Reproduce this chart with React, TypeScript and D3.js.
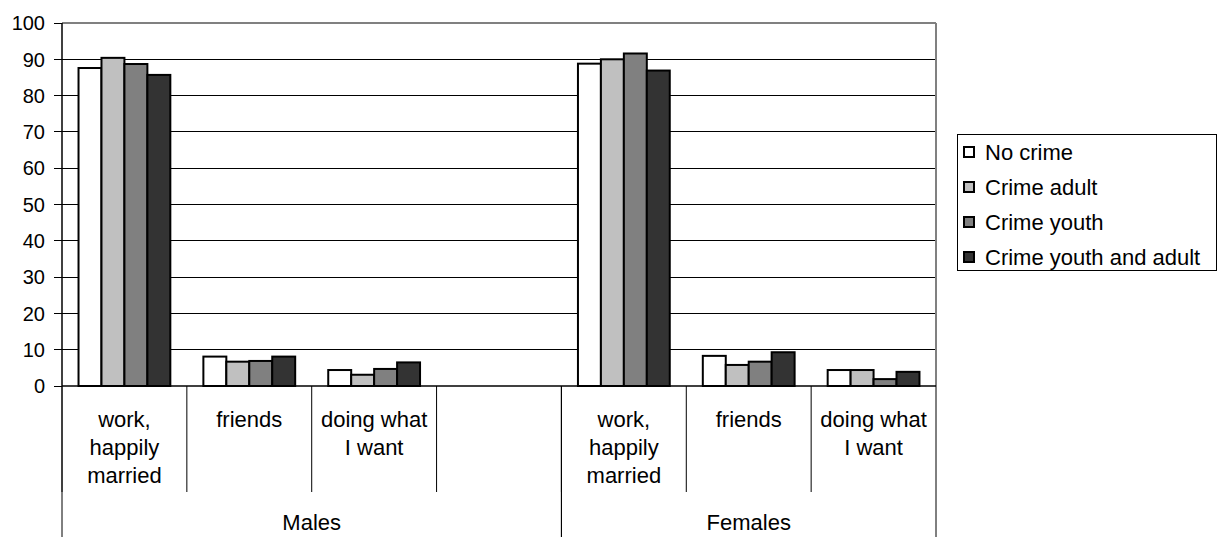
import React from "react";
import * as d3 from "d3";

const series = ["No crime", "Crime adult", "Crime youth", "Crime youth and adult"];
const groups = ["Males", "Females"];
const slots = ["M-work", "M-friends", "M-doing", "M-blank", "F-work", "F-friends", "F-doing"];
const slotLabels = [["work,", "happily", "married"], ["friends"], ["doing what", "I want"], [], ["work,", "happily", "married"], ["friends"], ["doing what", "I want"]];
const groupSlots = [["M-work", "M-blank"], ["F-work", "F-doing"]];
const dataSlots = ["M-work", "M-friends", "M-doing", "F-work", "F-friends", "F-doing"];
const noCrime = [87.6, 8.1, 4.4, 88.8, 8.3, 4.4];
const crimeAdult = [90.4, 6.7, 3.1, 90.0, 5.8, 4.4];
const crimeYouth = [88.7, 6.9, 4.7, 91.6, 6.7, 1.9];
const crimeYouthAdult = [85.7, 8.1, 6.5, 86.9, 9.3, 3.9];
const yTicks = [0, 10, 20, 30, 40, 50, 60, 70, 80, 90, 100];
const colors = ["#ffffff", "#c0c0c0", "#808080", "#333333"];

const W = 1221, H = 537;
const L = 62, R = 936, T = 23, B = 386;
const FONT = "Arial, 'Liberation Sans', sans-serif";

export default function App() {
  const x = d3.scaleBand<string>().domain(slots).range([L, R]).padding(0);
  const xs = d3.scaleBand<string>().domain(series).range([0, x.bandwidth()]).paddingInner(0).paddingOuter(0.72);
  const y = d3.scaleLinear().domain([0, 100]).range([B, T]);
  const allSeries = [noCrime, crimeAdult, crimeYouth, crimeYouthAdult];

  return (
    <svg width={W} height={H} style={{ position: "absolute", left: 0, top: 0, background: "#fff" }} fontFamily={FONT}>
      {yTicks.filter(t => t > 0 && t < 100).map(t => (
        <line key={"g" + t} x1={L} x2={R} y1={y(t)} y2={y(t)} stroke="#000" strokeWidth={1} shapeRendering="crispEdges" />
      ))}
      <line x1={L} x2={R} y1={y(100)} y2={y(100)} stroke="#808080" strokeWidth={2} />
      <line x1={R} x2={R} y1={y(100)} y2={B} stroke="#808080" strokeWidth={2} />
      {allSeries.map((vals, si) =>
        vals.map((v, i) => {
          const slot = dataSlots[i];
          const bx = (x(slot) as number) + (xs(series[si]) as number);
          return (
            <rect key={si + "-" + i} x={bx} y={y(v)} width={xs.bandwidth()} height={B - y(v)}
              fill={colors[si]} stroke="#000" strokeWidth={2} />
          );
        })
      )}
      <line x1={L} x2={L} y1={y(100)} y2={B} stroke="#000" strokeWidth={1.5} />
      {yTicks.map(t => (
        <g key={"t" + t}>
          <line x1={L - 8} x2={L} y1={y(t)} y2={y(t)} stroke="#000" strokeWidth={1} shapeRendering="crispEdges" />
          <text x={45} y={y(t)} dy="0.36em" textAnchor="end" fontSize={20} fill="#000">{t}</text>
        </g>
      ))}
      <line x1={L} x2={R} y1={B} y2={B} stroke="#000" strokeWidth={1.5} />
      {slots.map((s, i) => {
        const sx = x(s) as number;
        return (
          <g key={"s" + s}>
            <line x1={sx} x2={sx} y1={B} y2={492} stroke="#000" strokeWidth={1} />
            {slotLabels[i].map((ln, j) => (
              <text key={j} x={sx + x.bandwidth() / 2} y={427 + j * 28} textAnchor="middle" fontSize={22} fill="#000">{ln}</text>
            ))}
          </g>
        );
      })}
      {groupSlots.map(([a, b], gi) => {
        const gx0 = x(a) as number;
        const gx1 = (x(b) as number) + x.bandwidth();
        return (
          <g key={"grp" + gi}>
            <line x1={gx0} x2={gx0} y1={B} y2={H} stroke="#000" strokeWidth={1} />
            <line x1={gx1} x2={gx1} y1={B} y2={H} stroke="#000" strokeWidth={1} />
            <text x={(gx0 + gx1) / 2} y={530} textAnchor="middle" fontSize={22} fill="#000">{groups[gi]}</text>
          </g>
        );
      })}
      <rect x={957.5} y={134.5} width={259} height={136} fill="#fff" stroke="#000" strokeWidth={1} />
      {series.map((s, i) => (
        <g key={"l" + s} transform={`translate(964, ${152 + i * 35})`}>
          <rect x={0} y={-5} width={10} height={10} fill={colors[i]} stroke="#000" strokeWidth={2} />
          <text x={21} y={0} dy="0.36em" fontSize={22} fill="#000">{s}</text>
        </g>
      ))}
    </svg>
  );
}
